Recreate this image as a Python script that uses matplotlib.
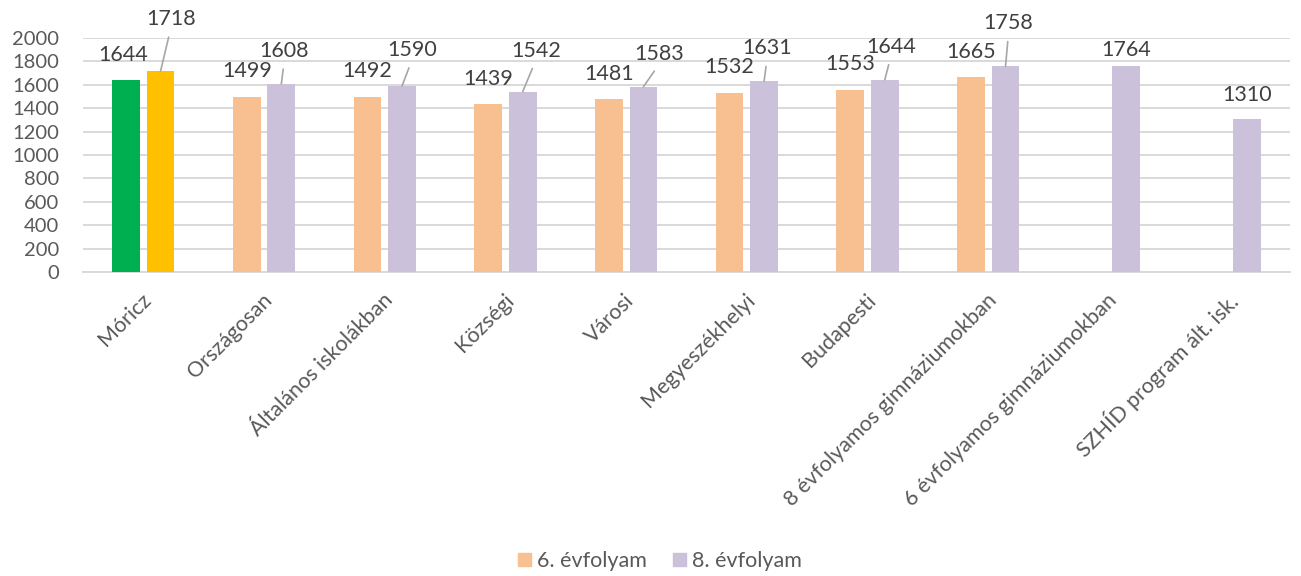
import numpy as np
import matplotlib
matplotlib.use('Agg')
import matplotlib.pyplot as plt
from matplotlib.patches import Patch
from matplotlib.transforms import ScaledTranslation

plt.rcParams['font.family'] = ['Lato', 'DejaVu Sans']

# --- data ---
categories = ['Móricz', 'Országosan', 'Általános iskolákban', 'Községi', 'Városi',
              'Megyeszékhelyi', 'Budapesti', '8 évfolyamos gimnáziumokban',
              '6 évfolyamos gimnáziumokban', 'SZHÍD program ált. isk.']
grade6 = [1644, 1499, 1492, 1439, 1481, 1532, 1553, 1665, np.nan, np.nan]
grade8 = [1718, 1608, 1590, 1542, 1583, 1631, 1644, 1758, 1764, 1310]
series_names = ['6. évfolyam', '8. évfolyam']

# --- styling ---
c6, c8 = '#F8C090', '#CBC1DB'
moricz6, moricz8 = '#00B050', '#FFC000'
axis_col = '#595959'
label_col = '#404040'
grid_col = '#D9D9D9'

# label offsets (pixels from top centre of bar), and which labels have leader lines
off6 = [(-3, 25), (0, 26), (0, 26), (0, 25), (0, 25), (0, 26), (0, 26), (0, 25), None, None]
off8 = [(10, 52), (3, 33), (10, 36), (13, 41), (16, 33), (3, 33), (6, 33), (3, 43), (0, 16), (0, 24)]
leader8 = [True] * 8 + [False, False]

fig = plt.figure(figsize=(13.01, 5.76), dpi=100)
ax = fig.add_axes([83 / 1301, 1 - 272 / 576, (1290 - 83) / 1301, 234 / 576])

x = np.arange(len(categories))
w = 0.23
shift = 0.143

cols6 = [moricz6] + [c6] * (len(x) - 1)
cols8 = [moricz8] + [c8] * (len(x) - 1)
ax.bar(x - shift, grade6, w, color=cols6, zorder=2)
ax.bar(x + shift, grade8, w, color=cols8, zorder=2)

# data labels
for i, v in enumerate(grade6):
    if np.isnan(v):
        continue
    ax.annotate(str(v), xy=(x[i] - shift, v), xytext=off6[i], textcoords='offset pixels',
                ha='center', va='center', fontsize=15.5, color=label_col)
for i, v in enumerate(grade8):
    props = None
    if leader8[i]:
        props = dict(arrowstyle='-', color='#A6A6A6', lw=1.2, shrinkA=4, shrinkB=0,
                     relpos=(0.5, 0))
    ax.annotate(str(v), xy=(x[i] + shift, v), xytext=off8[i], textcoords='offset pixels',
                ha='center', va='center', fontsize=15.5, color=label_col, arrowprops=props)

ax.set_xlim(-0.5, len(x) - 0.5)
ax.set_ylim(0, 2000)
ax.set_yticks(np.arange(0, 2001, 200))
ax.yaxis.grid(True, color=grid_col, lw=1.4, zorder=0)
ax.set_axisbelow(True)
for s in ax.spines.values():
    s.set_visible(False)
ax.axhline(0, color=grid_col, lw=1.4, zorder=1, clip_on=False)

ax.tick_params(axis='y', length=0, pad=17, labelsize=14.5, labelcolor=axis_col)
ax.tick_params(axis='x', length=0, pad=18, labelsize=15.5, labelcolor=axis_col)
ax.set_xticks(x)
ax.set_xticklabels(categories, rotation=45, ha='right', va='center', rotation_mode='anchor')
for lab in ax.get_xticklabels():
    lab.set_transform(lab.get_transform() + ScaledTranslation(5 / 100, 0, fig.dpi_scale_trans))

handles = [Patch(color=c6), Patch(color=c8)]
fig.legend(handles, series_names, loc='center', bbox_to_anchor=(660 / 1301, 1 - 561 / 576),
           ncol=2, frameon=False, fontsize=15.5, handlelength=0.6, handleheight=0.6,
           handletextpad=0.3, columnspacing=1.2, labelcolor=axis_col)

fig.savefig('out.png', dpi=100)
